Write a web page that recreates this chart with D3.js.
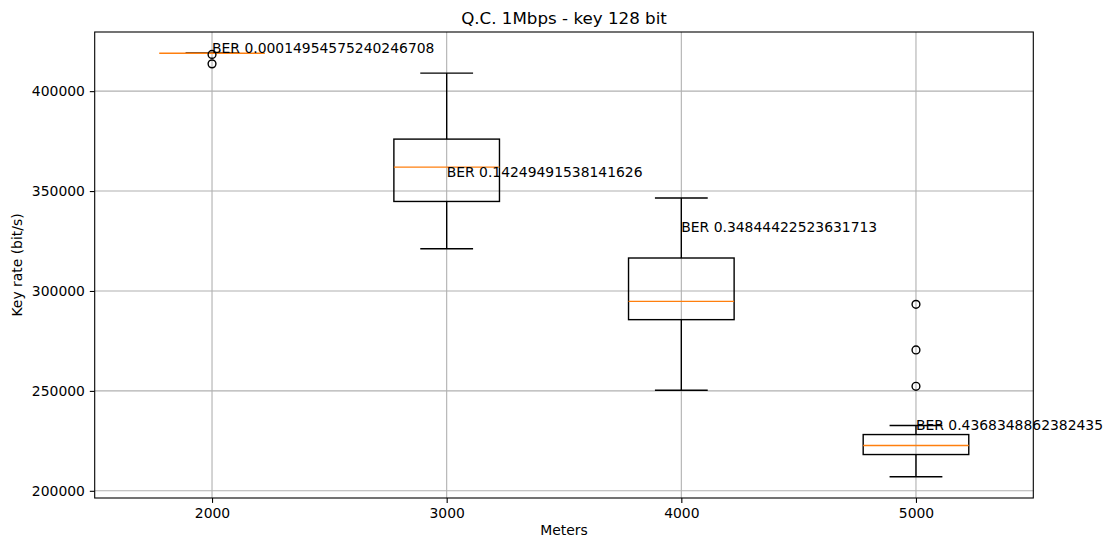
<!DOCTYPE html>
<html>
<head>
<meta charset="utf-8">
<script src="https://cdn.jsdelivr.net/npm/d3@7"></script>
<style>
  html, body { margin: 0; padding: 0; background: #fff; }
  svg { display: block; font-family: "DejaVu Sans", sans-serif; }
</style>
</head>
<body>
<svg id="chart" width="1109" height="539"></svg>
<script>
// Distances (m) along the x axis
const distances = [2000, 3000, 4000, 5000];

// Box statistics of the key rate (bit/s) at each distance
const whiskerLow  = [419000, 321150, 250300, 207000];
const q1          = [419000, 344800, 285650, 218150];
const median      = [419000, 362000, 294800, 222650];
const q3          = [419000, 376000, 316500, 228150];
const whiskerHigh = [419000, 409000, 346500, 232650];
const outliers    = [[418400, 413650], [], [], [293300, 270500, 252300]];

// Bit error rate notes and the key rate at which each one is written
const berLabels = ["0.00014954575240246708", "0.14249491538141626", "0.34844422523631713", "0.4368348862382435"];
const berY      = [419150, 357150, 329300, 230650];

const yTicks = [200000, 250000, 300000, 350000, 400000];

const svg = d3.select("#chart");
const margin = { left: 94.7, right: 1109 - 1033.3, top: 32, bottom: 539 - 498 };
const W = 1109, H = 539;
const x0 = margin.left, x1 = W - margin.right, y0 = margin.top, y1 = H - margin.bottom;

// Autoscale with 5% padding on the drawn data
const allVals = d3.merge([whiskerLow, whiskerHigh, q1, q3, median, d3.merge(outliers)]);
const vmin = d3.min(allVals), vmax = d3.max(allVals), pad = (vmax - vmin) * 0.05;

const positions = distances.map((d, i) => i + 1);
const x = d3.scaleLinear().domain([0.5, distances.length + 0.5]).range([x0, x1]);
const y = d3.scaleLinear().domain([vmin - pad, vmax + pad]).range([y1, y0]);

const boxHalf = 0.225, capHalf = 0.1125;
const tickFont = "13.9px";

// Grid
const grid = svg.append("g").attr("stroke", "#b0b0b0").attr("stroke-width", 1.1);
positions.forEach(p => grid.append("line")
  .attr("x1", x(p)).attr("x2", x(p)).attr("y1", y0).attr("y2", y1));
yTicks.forEach(t => grid.append("line")
  .attr("x1", x0).attr("x2", x1).attr("y1", y(t)).attr("y2", y(t)));

// Axes
const xAxis = d3.axisBottom(x).tickValues(positions)
  .tickFormat((d, i) => distances[i]).tickSize(4.9).tickPadding(4.9);
const yAxis = d3.axisLeft(y).tickValues(yTicks).tickFormat(d => d).tickSize(4.9).tickPadding(4.9);

const gx = svg.append("g").attr("transform", `translate(0,${y1})`).call(xAxis);
const gy = svg.append("g").attr("transform", `translate(${x0},0)`).call(yAxis);
[gx, gy].forEach(g => {
  g.select(".domain").remove();
  g.selectAll(".tick line").attr("stroke", "#000").attr("stroke-width", 1.1);
  g.selectAll(".tick text").attr("fill", "#000").style("font-size", tickFont)
    .style("font-family", "DejaVu Sans");
});

// Boxes
const boxes = svg.append("g").attr("fill", "none").attr("stroke", "#000").attr("stroke-width", 1.4);
positions.forEach((p, i) => {
  // whiskers
  boxes.append("line").attr("x1", x(p)).attr("x2", x(p)).attr("y1", y(q1[i])).attr("y2", y(whiskerLow[i]));
  boxes.append("line").attr("x1", x(p)).attr("x2", x(p)).attr("y1", y(q3[i])).attr("y2", y(whiskerHigh[i]));
  // caps
  boxes.append("line").attr("x1", x(p - capHalf)).attr("x2", x(p + capHalf))
    .attr("y1", y(whiskerLow[i])).attr("y2", y(whiskerLow[i]));
  boxes.append("line").attr("x1", x(p - capHalf)).attr("x2", x(p + capHalf))
    .attr("y1", y(whiskerHigh[i])).attr("y2", y(whiskerHigh[i]));
  // box
  boxes.append("rect").attr("x", x(p - boxHalf)).attr("width", x(p + boxHalf) - x(p - boxHalf))
    .attr("y", y(q3[i])).attr("height", Math.max(0, y(q1[i]) - y(q3[i])));
  // median
  svg.append("line").attr("stroke", "#ff7f0e").attr("stroke-width", 1.4)
    .attr("x1", x(p - boxHalf)).attr("x2", x(p + boxHalf))
    .attr("y1", y(median[i])).attr("y2", y(median[i]));
  // fliers
  outliers[i].forEach(v => svg.append("circle").attr("cx", x(p)).attr("cy", y(v)).attr("r", 3.9)
    .attr("fill", "none").attr("stroke", "#000").attr("stroke-width", 1.4));
});

// BER notes
positions.forEach((p, i) => {
  svg.append("text").attr("x", x(p)).attr("y", y(berY[i]))
    .style("font-size", tickFont).attr("fill", "#000")
    .text("BER " + berLabels[i]);
});

// Frame
svg.append("rect").attr("x", x0).attr("y", y0).attr("width", x1 - x0).attr("height", y1 - y0)
  .attr("fill", "none").attr("stroke", "#000").attr("stroke-width", 1.1);

// Titles
svg.append("text").attr("x", (x0 + x1) / 2).attr("y", 23.5).attr("text-anchor", "middle")
  .style("font-size", "16.7px").text("Q.C. 1Mbps - key 128 bit");
svg.append("text").attr("x", (x0 + x1) / 2).attr("y", 535).attr("text-anchor", "middle")
  .style("font-size", tickFont).text("Meters");
svg.append("text").attr("transform", `translate(22,${(y0 + y1) / 2}) rotate(-90)`)
  .attr("text-anchor", "middle").style("font-size", tickFont).text("Key rate (bit/s)");
</script>
</body>
</html>
